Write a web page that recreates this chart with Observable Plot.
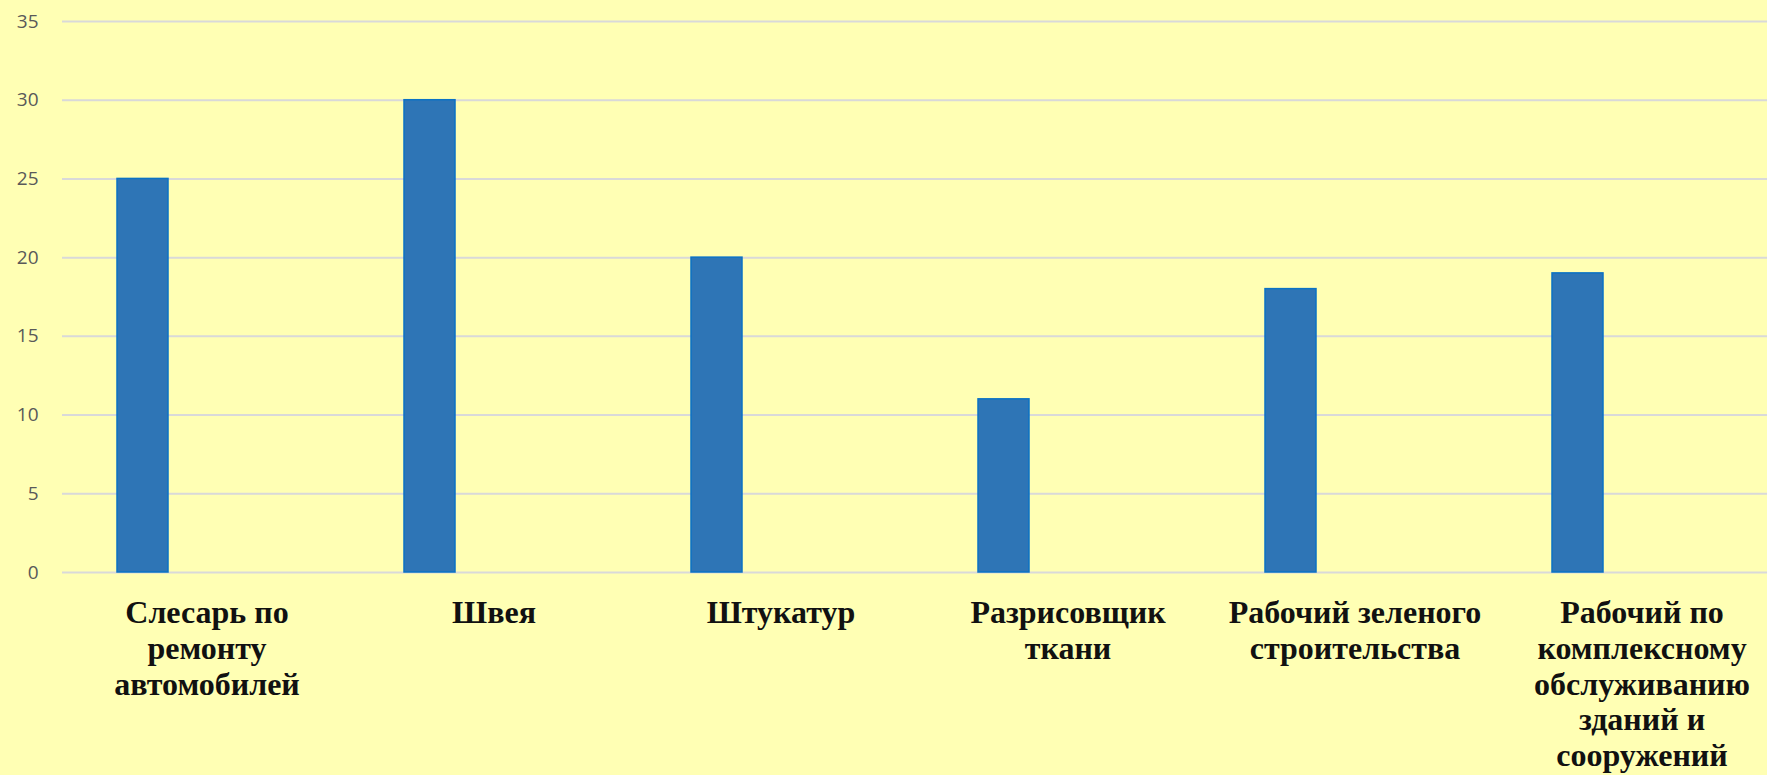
<!DOCTYPE html>
<html>
<head>
<meta charset="utf-8">
<script src="https://cdn.jsdelivr.net/npm/d3@7"></script>
<script src="https://cdn.jsdelivr.net/npm/@observablehq/plot@0.6"></script>
<style>
  html, body { margin: 0; padding: 0; background: #FFFFB4; overflow: hidden; }
  #chart svg { display: block; background: #FFFFB4; }
</style>
</head>
<body>
<div id="chart"></div>
<script>
const categories = [
  "Слесарь по ремонту автомобилей",
  "Швея",
  "Штукатур",
  "Разрисовщик ткани",
  "Рабочий зеленого строительства",
  "Рабочий по комплексному обслуживанию зданий и сооружений"
];
const tickLabels = [
  "Слесарь по\nремонту\nавтомобилей",
  "Швея",
  "Штукатур",
  "Разрисовщик\nткани",
  "Рабочий зеленого\nстроительства",
  "Рабочий по\nкомплексному\nобслуживанию\nзданий и\nсооружений"
];
const values = [25, 30, 20, 11, 18, 19];
const yTicks = [0, 5, 10, 15, 20, 25, 30, 35];

const data = categories.map((c, i) => ({category: c, value: values[i]}));
const labelOf = new Map(categories.map((c, i) => [c, tickLabels[i]]));

const chart = Plot.plot({
  width: 1767,
  height: 775,
  marginLeft: 62,
  marginRight: -19,
  marginTop: 21,
  marginBottom: 203,
  style: {background: "#FFFFB4", overflow: "visible"},
  x: {domain: categories, padding: 0, axis: null, label: null},
  y: {domain: [0, 35], axis: null, label: null},
  marks: [
    Plot.gridY(yTicks, {stroke: "#d9d9d9", strokeOpacity: 1, strokeWidth: 2}),
    Plot.barY(data, {
      x: "category", y: "value",
      fill: "#2E75B6", stroke: "#0B72C4", strokeWidth: 1.5,
      insetLeft: 54, insetRight: 182
    }),
    Plot.axisY(yTicks, {
      tickSize: 0, tickPadding: 24, label: null,
      fontSize: 19, fill: "#595959",
      fontFamily: "'Open Sans', sans-serif"
    }),
    Plot.axisX({
      tickSize: 0, tickPadding: 25, label: null,
      tickFormat: d => labelOf.get(d),
      fontSize: 32, fontWeight: "bold",
      fontFamily: "'Liberation Serif', 'Times New Roman', serif",
      fill: "#111111", lineHeight: 1.12, textOverflow: null
    })
  ]
});
document.getElementById("chart").appendChild(chart);
</script>
</body>
</html>
